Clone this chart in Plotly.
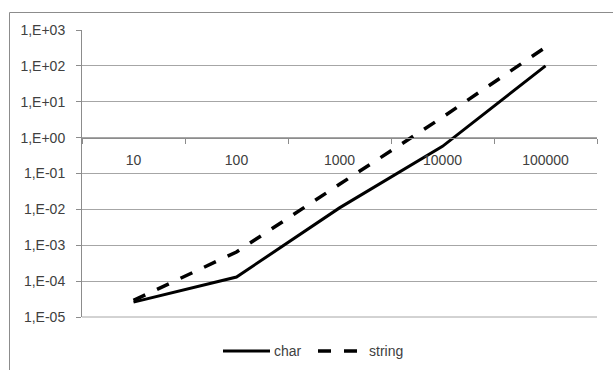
import plotly.graph_objects as go

# Problem sizes (categories on the x axis)
categories = ["10", "100", "1000", "10000", "100000"]

# Measured run times for each implementation
char_times = [2.6e-5, 1.3e-4, 1.1e-2, 0.57, 100]
string_times = [2.9e-5, 6.5e-4, 0.05, 3.7, 330]

# Log-scale y ticks with comma-decimal scientific labels
y_tick_vals = [1e-5, 1e-4, 1e-3, 1e-2, 1e-1, 1e0, 1e1, 1e2, 1e3]
y_tick_text = ["1,E-05", "1,E-04", "1,E-03", "1,E-02", "1,E-01",
               "1,E+00", "1,E+01", "1,E+02", "1,E+03"]

FONT = "Liberation Sans"
TEXT = "#404040"
GRID = "#a6a6a6"
AXIS = "#8c8c8c"
DASH = "13px,13px"

# plot-area geometry in pixels
W, H = 613, 370
L, R, T, B = 82, 16, 30, 53
PW, PH = W - L - R, H - T - B


def px(x):
    return (x - L) / PW


def py(y):
    return (H - B - y) / PH


fig = go.Figure()
fig.add_trace(go.Scatter(
    x=categories, y=char_times, name="char", mode="lines",
    line=dict(color="black", width=3),
))
fig.add_trace(go.Scatter(
    x=categories, y=string_times, name="string", mode="lines",
    line=dict(color="black", width=3.5, dash=DASH),
))

# The category axis crosses the value axis at 1,E+00
y_lo, y_hi = -5, 3
cross = (0 - y_lo) / (y_hi - y_lo)

# Legend drawn below the plot: line sample followed by the series name
legend_y = py(351)
legend_items = [
    ("char", 223, 270, "solid", 3),
    ("string", 318, 358, DASH, 3.5),
]
shapes = [
    # chart-area frame
    dict(type="rect", xref="paper", yref="paper",
         x0=px(9.5), x1=px(625), y0=py(380), y1=py(12.5),
         line=dict(color=AXIS, width=1), layer="below"),
    # gridline at the bottom of the value range
    dict(type="line", xref="paper", yref="paper",
         x0=0, x1=1, y0=0, y1=0,
         line=dict(color=GRID, width=1), layer="below"),
]
annotations = []
for name, x0, x1, dash, width in legend_items:
    shapes.append(dict(type="line", xref="paper", yref="paper",
                       x0=px(x0), x1=px(x1), y0=legend_y, y1=legend_y,
                       line=dict(color="black", width=width, dash=dash)))
    annotations.append(dict(text=name, xref="paper", yref="paper",
                            x=px(x1 + 2 if name == "char" else x1 + 9),
                            y=legend_y, xanchor="left", yanchor="middle",
                            showarrow=False,
                            font=dict(family=FONT, size=14, color=TEXT)))

fig.update_layout(
    width=W, height=H,
    margin=dict(l=L, r=R, t=T, b=B),
    paper_bgcolor="white", plot_bgcolor="white",
    font=dict(family=FONT, size=14, color=TEXT),
    showlegend=False,
    hovermode=False,
    xaxis=dict(
        type="category", range=[-0.5, 4.5],
        anchor="free", position=cross,
        showline=True, linecolor=AXIS, linewidth=1,
        ticks="outside", tickson="boundaries", ticklen=5, tickcolor=AXIS,
        showgrid=False, zeroline=False, ticklabelstandoff=10,
        tickfont=dict(family=FONT, size=14, color=TEXT),
    ),
    yaxis=dict(
        type="log", range=[y_lo, y_hi],
        tickvals=y_tick_vals, ticktext=y_tick_text,
        showline=True, linecolor=AXIS, linewidth=1,
        ticks="outside", ticklen=5, tickcolor=AXIS,
        showgrid=True, gridcolor=GRID, gridwidth=1,
        zeroline=False, ticklabelstandoff=8,
        tickfont=dict(family=FONT, size=14, color=TEXT),
    ),
    shapes=shapes,
    annotations=annotations,
)

fig.write_html("out.html")
